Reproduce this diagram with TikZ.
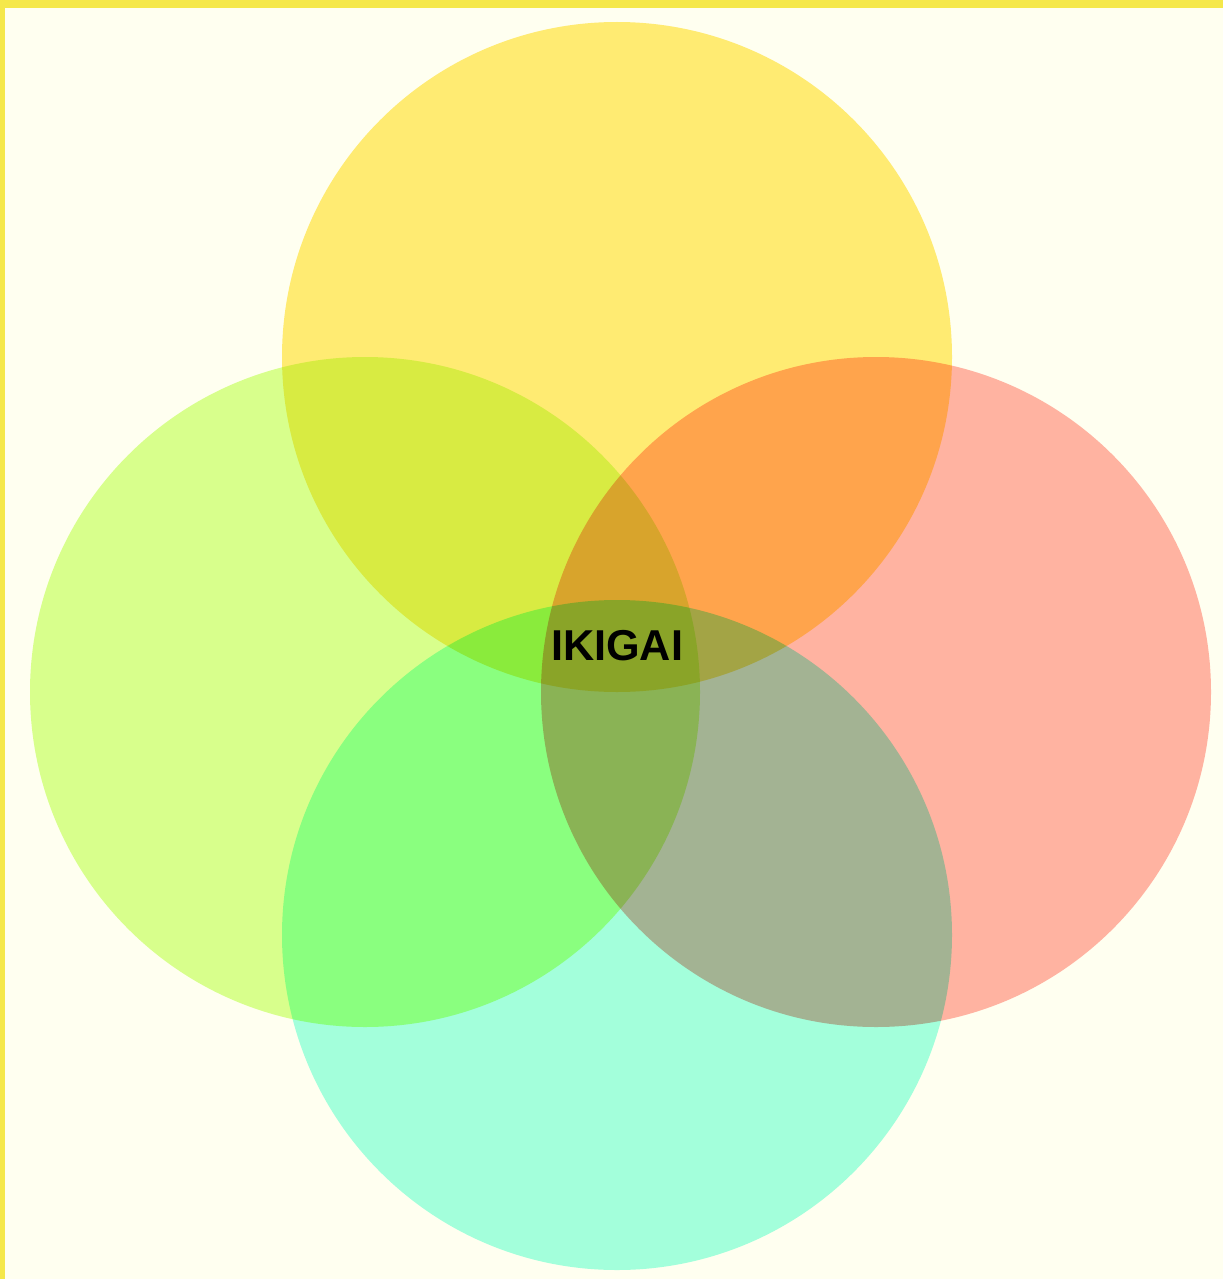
\documentclass[tikz,border=0pt]{standalone}
\usepackage{fontspec}
\setmainfont{Liberation Sans}
\definecolor{bgcream}{HTML}{FFFFF0}
\definecolor{edgeyellow}{HTML}{F5E84A}
\definecolor{cyellow}{HTML}{FFEB7A}
\definecolor{cgreen}{HTML}{D8FF95}
\definecolor{csalmon}{HTML}{FFB3AC}
\definecolor{caqua}{HTML}{A3FFE9}
\tikzset{
  petal/.style={blend mode=multiply, draw=none},
}
\begin{document}
\begin{tikzpicture}[x=0.5pt,y=-0.5pt]
\useasboundingbox (0,0) rectangle (1223,1279);
\fill[bgcream] (0,0) rectangle (1223,1279);
\fill[edgeyellow] (0,0) rectangle (1223,8);
\fill[edgeyellow] (0,0) rectangle (5,1279);
\fill[petal, fill=cyellow] (617,357) circle (335);
\fill[petal, fill=cgreen] (365,692) circle (335);
\fill[petal, fill=csalmon] (876,692) circle (335);
\fill[petal, fill=caqua] (617,935) circle (335);
\node[font=\bfseries\fontsize{21.6}{26}\selectfont, text=black, inner sep=0pt] (ikigai) at (617,646) {IKIGAI};
\end{tikzpicture}
\end{document}
